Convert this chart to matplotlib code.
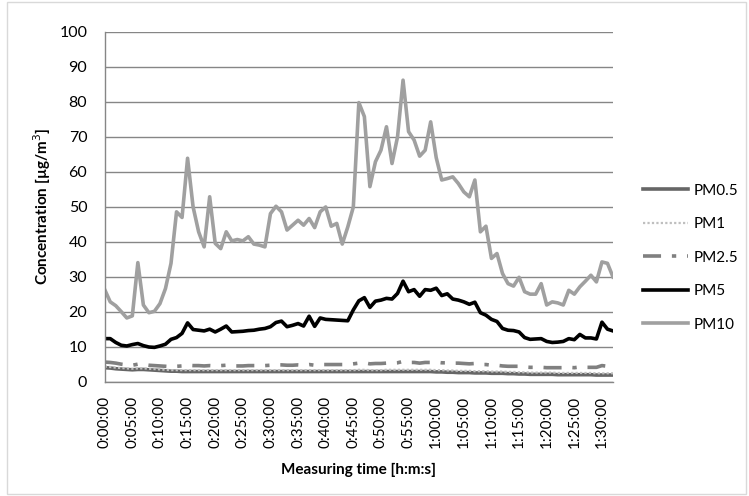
import matplotlib
matplotlib.use("Agg")
import matplotlib.pyplot as plt
from matplotlib.transforms import ScaledTranslation

plt.rcParams['font.family'] = ['Lato', 'DejaVu Sans']

n_minutes = 93
time_labels = [f"{m // 60}:{m % 60:02d}:00" for m in range(0, 91, 5)]

pm10 = [26.3, 22.8, 21.7, 20.0, 18.2, 18.8, 34.0, 21.9, 19.7, 20.1,
        22.3, 26.6, 33.8, 48.5, 46.9, 63.8, 49.9, 42.8, 38.5, 52.8,
        39.5, 38.0, 42.8, 40.2, 40.6, 40.2, 41.4, 39.3, 39.0, 38.5,
        48.0, 50.1, 48.5, 43.3, 44.7, 46.1, 44.7, 46.6, 44.0, 48.5,
        49.9, 44.4, 45.2, 39.3, 44.2, 49.9, 79.7, 75.7, 55.7, 62.8,
        66.1, 72.8, 62.3, 69.9, 86.1, 71.4, 69.0, 64.4, 66.1, 74.2,
        64.0, 57.6, 58.0, 58.5, 56.6, 54.2, 52.8, 57.6, 42.8, 44.4,
        35.2, 36.6, 30.9, 28.0, 27.3, 29.8, 25.7, 25.0, 25.0, 28.0,
        21.9, 22.8, 22.5, 21.9, 26.1, 25.0, 27.1, 28.7, 30.4, 28.5,
        34.2, 33.8, 29.9]

pm5 = [12.3, 12.3, 11.2, 10.4, 10.2, 10.6, 10.9, 10.3, 9.9, 9.8,
       10.2, 10.7, 12.1, 12.6, 13.8, 16.8, 14.9, 14.7, 14.5, 15.0,
       14.2, 15.0, 15.9, 14.2, 14.3, 14.4, 14.6, 14.7, 15.0, 15.2,
       15.7, 16.9, 17.3, 15.7, 16.1, 16.6, 15.9, 18.7, 15.8, 18.2,
       17.8, 17.7, 17.6, 17.5, 17.4, 20.5, 23.1, 24.0, 21.2, 23.0,
       23.3, 23.8, 23.6, 25.2, 28.7, 25.7, 26.3, 24.4, 26.3, 26.1,
       26.7, 24.6, 25.1, 23.6, 23.3, 22.8, 22.1, 22.7, 19.7, 19.0,
       17.8, 17.2, 15.2, 14.7, 14.6, 14.2, 12.6, 12.1, 12.2, 12.3,
       11.5, 11.2, 11.3, 11.5, 12.3, 12.0, 13.5, 12.5, 12.5, 12.2,
       17.0, 15.0, 14.5]

pm05 = [4.0, 3.9, 3.7, 3.6, 3.5, 3.4, 3.5, 3.5, 3.4, 3.3,
        3.2, 3.1, 3.0, 3.0, 2.9, 2.9, 2.9, 2.9, 2.9, 2.9,
        2.9, 2.9, 2.9, 2.9, 2.9, 2.9, 2.9, 2.9, 2.9, 2.9,
        2.9, 2.9, 2.9, 2.9, 2.9, 2.9, 2.9, 2.9, 2.9, 2.9,
        2.9, 2.9, 2.9, 2.9, 2.9, 2.9, 2.9, 2.9, 2.9, 2.9,
        2.9, 2.9, 2.9, 2.9, 2.9, 2.9, 2.9, 2.9, 2.9, 2.9,
        2.8, 2.8, 2.7, 2.7, 2.6, 2.6, 2.6, 2.5, 2.5, 2.5,
        2.4, 2.4, 2.4, 2.3, 2.3, 2.2, 2.2, 2.1, 2.1, 2.1,
        2.1, 2.1, 2.0, 2.0, 2.0, 2.0, 2.0, 2.0, 2.0, 1.9,
        1.9, 1.9, 1.9]

pm1 = [4.3, 4.2, 4.0, 3.9, 3.8, 3.7, 3.8, 3.8, 3.7, 3.6,
       3.5, 3.4, 3.3, 3.3, 3.3, 3.3, 3.3, 3.3, 3.3, 3.3,
       3.3, 3.3, 3.3, 3.3, 3.3, 3.3, 3.3, 3.3, 3.3, 3.3,
       3.3, 3.3, 3.3, 3.3, 3.3, 3.3, 3.3, 3.3, 3.3, 3.3,
       3.3, 3.3, 3.3, 3.3, 3.3, 3.3, 3.4, 3.4, 3.3, 3.3,
       3.3, 3.4, 3.4, 3.4, 3.4, 3.4, 3.4, 3.4, 3.4, 3.4,
       3.3, 3.3, 3.2, 3.2, 3.1, 3.1, 3.1, 3.0, 3.0, 3.0,
       2.9, 2.9, 2.9, 2.8, 2.8, 2.7, 2.7, 2.6, 2.6, 2.6,
       2.6, 2.6, 2.5, 2.5, 2.5, 2.5, 2.5, 2.5, 2.5, 2.4,
       2.4, 2.4, 2.4]

pm25 = [5.6, 5.5, 5.3, 5.0, 4.8, 4.7, 5.0, 4.9, 4.7, 4.6,
        4.5, 4.4, 4.3, 4.4, 4.5, 4.7, 4.6, 4.6, 4.5, 4.6,
        4.5, 4.6, 4.7, 4.5, 4.5, 4.5, 4.6, 4.6, 4.6, 4.6,
        4.7, 4.8, 4.8, 4.7, 4.7, 4.8, 4.7, 4.9, 4.7, 4.9,
        4.9, 4.9, 4.9, 4.9, 4.9, 5.1, 5.3, 5.4, 5.1, 5.2,
        5.2, 5.3, 5.3, 5.4, 5.8, 5.5, 5.5, 5.3, 5.5, 5.5,
        5.6, 5.4, 5.4, 5.3, 5.3, 5.2, 5.1, 5.2, 4.9, 4.9,
        4.7, 4.7, 4.5, 4.4, 4.4, 4.4, 4.2, 4.1, 4.1, 4.1,
        4.0, 4.0, 4.0, 4.0, 4.1, 4.0, 4.2, 4.1, 4.1, 4.1,
        4.6, 4.4, 4.3]

series_names = ["PM0.5", "PM1", "PM2.5", "PM5", "PM10"]

W, H = 749, 496
fig = plt.figure(figsize=(W / 100, H / 100), dpi=100)
left_px, right_px, top_px, bottom_px = 104.7, 613.0, 31.5, 381.7
ax = fig.add_axes([left_px / W, 1 - bottom_px / H,
                   (right_px - left_px) / W, (bottom_px - top_px) / H])

x = list(range(n_minutes))
ax.plot(x, pm05, color="#666666", lw=2.6, label=series_names[0], solid_joinstyle="round")
ax.plot(x, pm1, color="#BFBFBF", lw=1.6, ls=(0, (1, 1)), label=series_names[1])
ax.plot(x, pm25, color="#808080", lw=2.6, ls=(0, (5, 3, 1.2, 3)), label=series_names[2])
ax.plot(x, pm5, color="#000000", lw=2.6, label=series_names[3], solid_joinstyle="round")
ax.plot(x, pm10, color="#A0A0A0", lw=2.6, label=series_names[4], solid_joinstyle="round")

ax.set_xlim(0, n_minutes - 1)
ax.set_ylim(0, 100)
ax.set_yticks(range(0, 101, 10))
ax.set_xticks(range(0, 91, 5))
ax.set_xticklabels(time_labels, rotation=90, fontsize=11)
offset = ScaledTranslation(4.5 / 100, 0, fig.dpi_scale_trans)
for lab in ax.get_xticklabels():
    lab.set_transform(lab.get_transform() + offset)
ax.tick_params(axis='y', labelsize=11.5, length=0, pad=12.5)
ax.tick_params(axis='x', length=0, pad=10.5)
ax.yaxis.grid(True, color="#868686", lw=1.0)
ax.set_axisbelow(True)
for s in ["top", "right"]:
    ax.spines[s].set_visible(False)
for s in ["left", "bottom"]:
    ax.spines[s].set_color("#868686")
    ax.spines[s].set_linewidth(1.0)

ax.set_ylabel("Concentration [µg/m$^3$]", fontsize=11, fontweight="bold")
ax.set_xlabel("Measuring time [h:m:s]", fontsize=11, fontweight="bold")
ax.yaxis.set_label_coords((42 - left_px) / (right_px - left_px), 0.5)
ax.xaxis.set_label_coords(0.5, (bottom_px - 470) / (bottom_px - top_px))
ax.xaxis.label.set_va("center")
ax.yaxis.label.set_va("center")

fs = 11
fs_px = fs * 100 / 72
target_pitch = 33.5
target_first = H - 189.3      # display y (from bottom) of first legend line
target_hx = 643.3             # left end of legend handle lines


def make_legend(ls, ax_x, ax_y):
    return fig.legend(loc="center left", bbox_to_anchor=(ax_x, ax_y), frameon=False,
                      fontsize=fs, handlelength=2.95, labelspacing=ls,
                      handletextpad=0.33)


ls = 1.0
bx, by = 0.85, 0.483
leg = make_legend(ls, bx, by)
r = fig.canvas.get_renderer()
for _ in range(3):
    fig.canvas.draw()
    hb = [h.get_window_extent(r) for h in leg.legend_handles]
    cy = [(b.y0 + b.y1) / 2 for b in hb]
    pitch = (cy[0] - cy[-1]) / 4
    row_h = pitch - ls * fs_px
    ls = (target_pitch - row_h) / fs_px
    dy = target_first - cy[0]
    dx = target_hx - hb[0].x0
    bx += dx / W
    by += dy / H
    leg.remove()
    leg = make_legend(ls, bx, by)

border = plt.Rectangle((7 / W, 2 / H), (W - 10) / W, (H - 4) / H, transform=fig.transFigure,
                       fill=False, edgecolor="#D9D9D9", lw=1.0)
fig.patches.append(border)

fig.savefig("out.png", dpi=100)
